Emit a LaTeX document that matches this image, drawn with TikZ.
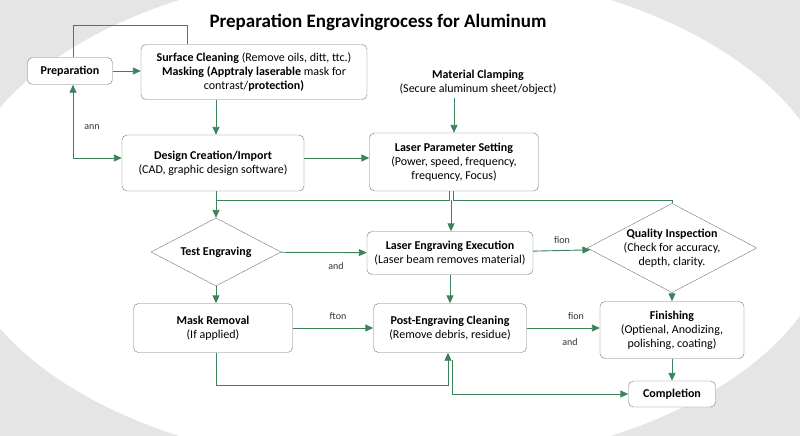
\documentclass[tikz,border=0pt]{standalone}
\usepackage{fontspec}
\setmainfont{Carlito}
\usetikzlibrary{shapes.geometric,arrows.meta}
\definecolor{grn}{RGB}{60,130,90}
\definecolor{bd}{RGB}{110,120,125}
\begin{document}
\begin{tikzpicture}[x=1pt,y=-1pt,
  box/.style={draw=bd,rounded corners=5pt,fill=white,align=center,inner sep=2pt,font=\fontsize{12}{14}\selectfont},
  dia/.style={draw=bd,diamond,aspect=1.9,fill=white,align=center,inner sep=0pt,font=\fontsize{12}{14}\selectfont},
  arr/.style={draw=grn,line width=0.9pt,-{Triangle[length=8pt,width=7pt]}},
  gline/.style={draw=grn,line width=0.9pt},
  lbl/.style={font=\fontsize{10}{12}\selectfont,text=black!80}]
\useasboundingbox (0,0) rectangle (800,436);
\clip (0,0) rectangle (800,436);
\fill[black!10] (0,0) rectangle (800,436);
\fill[white] (395,218) ellipse (440 and 250);
\node[font=\bfseries\fontsize{19}{22}\selectfont] (title) at (378,22) {Preparation Engravingrocess for Aluminum};
\node[box,minimum width=85,minimum height=27] (prep) at (70,71) {\textbf{Preparation}};
\node[box,minimum width=226,minimum height=55] (surf) at (254,72) {\textbf{Surface Cleaning} (Remove oils, ditt, ttc.)\\ \textbf{Masking (Apptraly laserable} mask for\\ contrast/\textbf{protection)}};
\node[align=center,font=\fontsize{12}{14}\selectfont] (clamp) at (478,82) {\textbf{Material Clamping}\\(Secure aluminum sheet/object)};
\node[box,minimum width=182,minimum height=56] (design) at (213,163) {\textbf{Design Creation/Import}\\(CAD, graphic design software)};
\node[box,minimum width=169,minimum height=58] (param) at (454,162) {\textbf{Laser Parameter Setting}\\(Power, speed, frequency,\\ frequency, Focus)};
\node[dia,minimum width=130,minimum height=68] (test) at (216,252) {\textbf{Test Engraving}};
\node[box,minimum width=166,minimum height=43] (exec) at (450,253) {\textbf{Laser Engraving Execution}\\(Laser beam removes material)};
\node[dia,minimum width=167,minimum height=69] (qual) at (672,248) {\textbf{Quality Inspection}\\(Check for accuracy,\\ depth, clarity.};
\node[box,minimum width=159,minimum height=49] (mask) at (213,328) {\textbf{Mask Removal}\\(If applied)};
\node[box,minimum width=153,minimum height=49] (post) at (450,328) {\textbf{Post-Engraving Cleaning}\\(Remove debris, residue)};
\node[box,minimum width=144,minimum height=57] (fin) at (672,330) {\textbf{Finishing}\\(Optienal, Anodizing,\\ polishing, coating)};
\node[box,minimum width=87,minimum height=26] (comp) at (672,394) {\textbf{Completion}};
\node[lbl] (l1) at (92,127) {ann};
\node[lbl] (l2) at (336,266) {and};
\node[lbl] (l3) at (562,240) {fion};
\node[lbl] (l4) at (338,316) {fton};
\node[lbl] (l5) at (576,316) {fion};
\node[lbl] (l6) at (570,342) {and};
\coordinate (j1) at (216,200);
\coordinate (c1) at (73,25);
\coordinate (c2) at (187,25);
\draw[gline] (prep.north -| c1) -- (c1) -- (c2) -- (surf.north -| c2);
\draw[arr] (prep) -- (surf.west |- prep);
\draw[arr] (73,158) -- (prep.south -| 73,0);
\draw[arr] (73,150) |- (design.west |- 0,158);
\draw[arr] (surf.south -| 216,0) -- (design.north -| 216,0);
\draw[arr] (clamp.south -| 454,0) -- (param.north -| 454,0);
\draw[arr] (design.east |- 0,158) -- (param.west |- 0,158);
\draw[gline] (design.south -| 216,0) -- (j1) -- (449,200) -- (param.south -| 449,0);
\draw[arr] (j1) -- (test.north);
\draw[gline] (param.south -| 453,0) |- (672,200) -- (qual.north);
\draw[arr] (451,200) -- (exec.north -| 451,0);
\draw[arr] (test) -- (exec);
\draw[arr] (exec) -- (qual);
\draw[arr] (test) -- (mask.north -| test.south);
\draw[arr] (exec) -- (post);
\draw[arr] (mask) -- (post);
\draw[arr] (post) -- (fin.west |- post);
\draw[arr] (qual) -- (fin);
\draw[arr] (fin) -- (comp);
\draw[arr] (mask.south -| 216,0) |- (448,385) -- (post.south -| 448,0);
\draw[arr] (452,360) |- (comp.west);
\end{tikzpicture}
\end{document}
